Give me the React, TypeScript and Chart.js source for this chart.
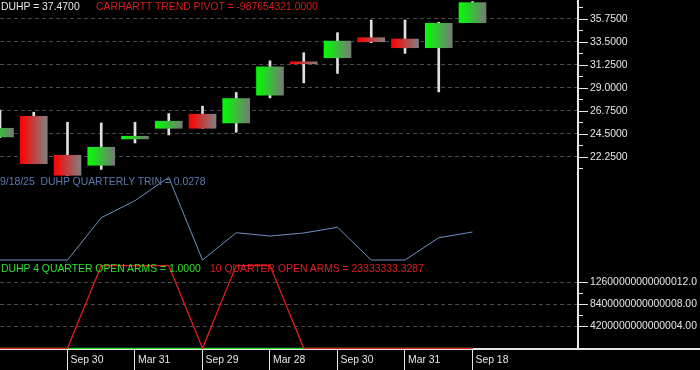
import React, { useEffect, useRef } from 'react';
import { Chart, registerables } from 'chart.js';

Chart.register(...registerables);

// ---- data ----
const quarterLabels = [
  'Mar 31', 'Jun 30', 'Sep 30', 'Dec 30', 'Mar 31', 'Jun 30', 'Sep 29', 'Dec 29',
  'Mar 28', 'Jun 28', 'Sep 30', 'Dec 31', 'Mar 31', 'Jun 30', 'Sep 18',
];
const opens = [24.21, 26.24, 22.42, 21.44, 24.02, 25.06, 26.44, 25.58, 28.3, 31.56, 31.96, 33.92, 33.79, 32.94, 35.39];
const highs = [26.83, 26.63, 25.65, 25.58, 25.65, 26.5, 27.22, 28.56, 31.66, 32.45, 34.41, 35.65, 35.65, 35.43, 37.45];
const lows = [24.15, 21.6, 20.46, 21.04, 23.62, 24.41, 25.06, 24.67, 28.03, 29.5, 30.43, 33.43, 32.39, 28.62, 35.39];
const closes = [25.06, 21.6, 20.46, 23.2, 24.28, 25.75, 25.06, 27.97, 31.07, 31.37, 33.59, 33.52, 32.94, 35.33, 37.35];
const trinValues = [0, 0, 0, 0.042, 0.0589, 0.0821, 0, 0.0271, 0.0238, 0.0268, 0.0325, 0, 0, 0.0221, 0.0278];
const openArms10 = [0, 0, 0, 1.58e16, 1.58e16, 1.58e16, 0, 1.58e16, 1.58e16, 0, 0, 0, 0, 0, 0];
const openArms4 = [1, 1, 1, 1, 1, 1, 1, 1, 1, 1, 1, 1, 1, 1, 1];

const xTickIndices = [2, 4, 6, 8, 10, 12, 14];
const priceMajorTicks = [22.25, 24.5, 26.75, 29.0, 31.25, 33.5, 35.75];
const priceMajorLabels = ['22.2500', '24.5000', '26.7500', '29.0000', '31.2500', '33.5000', '35.7500'];
const priceMinorTicks = [21.125, 23.375, 25.625, 27.875, 30.125, 32.375, 34.625, 36.875];
const armsMajorTicks = [4.2e15, 8.4e15, 1.26e16];
const armsMajorLabels = ['4200000000000004.00', '8400000000000008.00', '12600000000000012.0'];
const armsMinorTicks = [6.3e15, 1.05e16];

const FONT = 'Liberation Sans';
const AXIS_WHITE = '#e6e6e6';
const GRID = '#4c4c4c';

function majorLabel(value: number, majors: number[], labels: string[]) {
  for (let i = 0; i < majors.length; i++) {
    if (Math.abs(majors[i] - value) <= Math.abs(majors[i]) * 1e-9) return labels[i];
  }
  return '';
}

function noPad(s: any) {
  s.paddingTop = 0;
  s.paddingBottom = 0;
  s.paddingLeft = 0;
  s.paddingRight = 0;
}

const axisDecor = {
  id: 'axisDecor',
  afterLayout(chart: any) {
    const s = chart.scales.yArms;
    if (s) {
      s.left = chart.chartArea.right;
      s.right = chart.width;
      s.width = s.right - s.left;
    }
  },
  afterDraw(chart: any) {
    const { ctx, chartArea, scales } = chart;
    ctx.save();
    ctx.strokeStyle = AXIS_WHITE;
    ctx.lineWidth = 1;
    ['yPrice', 'yArms'].forEach((id) => {
      const s = scales[id];
      s.ticks.forEach((t: any) => {
        const y = Math.round(s.getPixelForValue(t.value)) + 0.5;
        const len = t.label ? 10 : 5;
        ctx.beginPath();
        ctx.moveTo(chartArea.right, y);
        ctx.lineTo(chartArea.right + len, y);
        ctx.stroke();
      });
    });
    ctx.lineWidth = 2;
    ctx.beginPath();
    ctx.moveTo(chartArea.right, chartArea.bottom);
    ctx.lineTo(chart.width, chartArea.bottom);
    ctx.stroke();
    ctx.restore();
  },
};

function candleGradient(c: any) {
  if (c.type !== 'data') return '#00ff00';
  const chart = c.chart;
  if (!chart.chartArea) return '#00ff00';
  const i = c.dataIndex;
  const up = closes[i] >= opens[i];
  const px = chart.scales.x.getPixelForValue(i);
  const g = chart.ctx.createLinearGradient(px - 13.5, 0, px + 13.5, 0);
  g.addColorStop(0, up ? '#00ff00' : '#ff0000');
  g.addColorStop(1, up ? '#787878' : '#808080');
  return g;
}

export default function App() {
  const canvasRef = useRef<HTMLCanvasElement | null>(null);

  useEffect(() => {
    const canvas = canvasRef.current;
    if (!canvas) return;
    const idx = quarterLabels.map((_, i) => i);
    const chart = new Chart(canvas, {
      type: 'bar',
      data: {
        datasets: [
          {
            type: 'bar',
            label: 'DUHP body',
            data: idx.map((i) => ({ x: i, y: [opens[i], closes[i]] })) as any,
            backgroundColor: candleGradient as any,
            borderWidth: 0,
            barThickness: 27,
            grouped: false,
            xAxisID: 'x',
            yAxisID: 'yPrice',
            order: 0,
          } as any,
          {
            type: 'bar',
            label: 'DUHP wick',
            data: idx.map((i) => ({ x: i, y: [lows[i], highs[i]] })) as any,
            backgroundColor: '#e0e0e0',
            borderWidth: 0,
            barThickness: 2,
            grouped: false,
            xAxisID: 'x',
            yAxisID: 'yPrice',
            order: 1,
          } as any,
          {
            type: 'line',
            label: 'TRIN',
            data: idx.map((i) => ({ x: i, y: trinValues[i] })) as any,
            borderColor: '#6f8fc0',
            borderWidth: 1,
            pointRadius: 0,
            tension: 0,
            xAxisID: 'x',
            yAxisID: 'yTrin',
            order: 2,
          } as any,
          {
            type: 'line',
            label: '10 quarter open arms',
            data: idx.map((i) => ({ x: i, y: openArms10[i] })) as any,
            borderColor: '#e31c1c',
            borderWidth: 1.3,
            pointRadius: 0,
            tension: 0,
            xAxisID: 'x',
            yAxisID: 'yArms',
            order: 3,
          } as any,
          {
            type: 'line',
            label: '4 quarter open arms',
            data: idx.map((i) => ({ x: i, y: openArms4[i] })) as any,
            borderColor: '#2ad42a',
            borderWidth: 1.3,
            pointRadius: 0,
            tension: 0,
            xAxisID: 'x',
            yAxisID: 'yArms',
            order: 4,
          } as any,
        ],
      },
      options: {
        responsive: false,
        animation: false,
        devicePixelRatio: 1,
        events: [],
        layout: { padding: 0 },
        plugins: { legend: { display: false }, tooltip: { enabled: false }, title: { display: false } },
        scales: {
          x: {
            type: 'linear',
            position: 'bottom',
            min: 0,
            max: 17.126,
            offset: false,
            afterBuildTicks: (s: any) => {
              s.ticks = xTickIndices.map((v) => ({ value: v }));
            },
            afterFit: (s: any) => {
              s.height = 21;
              noPad(s);
            },
            ticks: {
              autoSkip: false,
              maxRotation: 0,
              minRotation: 0,
              align: 'start',
              labelOffset: 3,
              padding: -17,
              color: AXIS_WHITE,
              font: { family: FONT, size: 10.4 },
              callback: (v: any) => quarterLabels[Math.round(Number(v))] ?? '',
            },
            grid: {
              offset: false,
              drawOnChartArea: false,
              drawTicks: true,
              tickLength: 22,
              tickColor: AXIS_WHITE,
              tickWidth: 1,
            },
            border: { display: true, color: AXIS_WHITE, width: 2 },
          },
          yArms: {
            type: 'linear',
            position: 'right',
            weight: 0,
            min: -1.336e14,
            max: 6.649e16,
            afterBuildTicks: (s: any) => {
              s.ticks = [...armsMajorTicks, ...armsMinorTicks].sort((a, b) => a - b).map((v) => ({ value: v }));
            },
            afterFit: (s: any) => {
              s.width = 0;
              noPad(s);
            },
            ticks: {
              autoSkip: false,
              padding: 12,
              color: AXIS_WHITE,
              font: { family: FONT, size: 10.4 },
              callback: (v: any) => majorLabel(Number(v), armsMajorTicks, armsMajorLabels),
            },
            grid: {
              drawTicks: false,
              color: (c: any) => (c.tick && c.tick.label ? GRID : 'rgba(0,0,0,0)'),
              lineWidth: 1,
            },
            border: { display: true, color: AXIS_WHITE, width: 2, dash: [4, 3] },
          },
          yPrice: {
            type: 'linear',
            position: 'right',
            weight: 1,
            min: 3.467,
            max: 37.6087,
            afterBuildTicks: (s: any) => {
              s.ticks = [...priceMajorTicks, ...priceMinorTicks].sort((a, b) => a - b).map((v) => ({ value: v }));
            },
            afterFit: (s: any) => {
              s.width = 122;
              noPad(s);
            },
            ticks: {
              autoSkip: false,
              padding: 12,
              color: AXIS_WHITE,
              font: { family: FONT, size: 10.4 },
              callback: (v: any) => majorLabel(Number(v), priceMajorTicks, priceMajorLabels),
            },
            grid: {
              drawTicks: false,
              color: (c: any) => (c.tick && c.tick.label ? GRID : 'rgba(0,0,0,0)'),
              lineWidth: 1,
            },
            border: { display: true, color: AXIS_WHITE, width: 2, dash: [4, 3] },
          },
          yTrin: {
            type: 'linear',
            position: 'right',
            display: false,
            min: -0.08838,
            max: 0.25819,
          },
        },
      } as any,
      plugins: [axisDecor],
    });
    return () => chart.destroy();
  }, []);

  const textBase: React.CSSProperties = {
    position: 'absolute',
    fontFamily: FONT,
    fontSize: '10.4px',
    lineHeight: '12px',
    whiteSpace: 'pre',
    margin: 0,
  };

  return (
    <div style={{ position: 'fixed', left: 0, top: 0, width: 700, height: 370, background: '#000', overflow: 'hidden' }}>
      <canvas ref={canvasRef} width={700} height={370} style={{ position: 'absolute', left: 0, top: 0, width: 700, height: 370 }} />
      <span style={{ ...textBase, left: 1, top: 0.5, color: '#e8e8e8' }}>DUHP = 37.4700</span>
      <span style={{ ...textBase, left: 96, top: 0.5, color: '#d81c1c' }}>CARHARTT TREND PIVOT = -987654321.0000</span>
      <span style={{ ...textBase, left: 0, top: 176, color: '#5a7aae' }}>9/18/25  DUHP QUARTERLY TRIN = 0.0278</span>
      <span style={{ ...textBase, left: 1, top: 262.7, color: '#2ee02e' }}>DUHP 4 QUARTER OPEN ARMS = 1.0000</span>
      <span style={{ ...textBase, left: 210, top: 262.7, color: '#e01e1e' }}>10 QUARTER OPEN ARMS = 23333333.3287</span>
    </div>
  );
}
